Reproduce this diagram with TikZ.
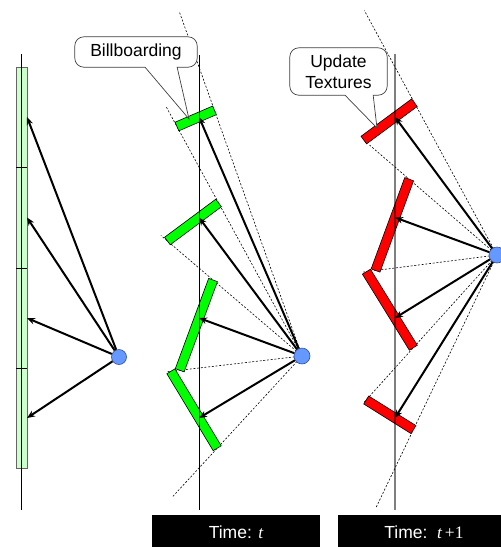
\documentclass[tikz,border=0pt]{standalone}
\usepackage{fontspec}
\setmainfont{Liberation Sans}
\newfontfamily\tnr{Liberation Serif}
\usetikzlibrary{calc,arrows.meta}
\definecolor{stripgreen}{HTML}{CCFFCC}
\definecolor{slabgreen}{HTML}{00FF00}
\definecolor{slabred}{HTML}{FF0000}
\definecolor{camblue}{HTML}{6699FF}
\definecolor{camedge}{HTML}{2F4F9F}
% #1 camera, #2 midpoint, #3 #4 boundary points, #5 fill, #6 name
\newcommand\mkslab[6]{%
  \coordinate (#6q) at ($(#2)!1!90:(#1)$);
  \coordinate (#6a) at (intersection of #2--#6q and #1--#3);
  \coordinate (#6b) at (intersection of #2--#6q and #1--#4);
  \draw[slabedge, fill=#5]
    ($(#6a)!4.7pt!90:(#6b)$) -- ($(#6b)!4.7pt!-90:(#6a)$) --
    ($(#6b)!4.7pt!90:(#6a)$) -- ($(#6a)!4.7pt!-90:(#6b)$) -- cycle;}
\begin{document}
\begin{tikzpicture}[x=1pt,y=-1pt,
  axisline/.style={line width=0.8pt},
  greyaxis/.style={line width=2pt, draw=black, draw opacity=0.5},
  rayline/.style={dash pattern=on 2pt off 1.7pt, line width=0.6pt},
  ptr/.style={line width=2pt, -{Stealth[length=8pt,width=6.5pt]}},
  cam/.style={circle, draw=camedge, fill=camblue, inner sep=0pt, line width=0.6pt},
  slabedge/.style={draw=black, line width=0.6pt},
  callout/.style={draw=black!75, fill=white, line width=0.7pt},
  txt/.style={font=\fontsize{17.5pt}{21pt}\selectfont},
  timebox/.style={fill=black, text=white, inner sep=0pt, font=\fontsize{17.5pt}{21pt}\selectfont}
]
\useasboundingbox (0,0) rectangle (501,547);

% ---------------- panel 1 ----------------
\draw[fill=stripgreen, draw=black!60, line width=0.6pt] (16,67) rectangle (27,468);
\foreach \yy in {167,268,368} \draw[line width=0.6pt] (16,\yy) -- (27,\yy);
\coordinate (L1top) at (21.5,54);
\coordinate (L1bot) at (21.5,510);
\draw[axisline] (L1top) -- (L1bot);
\node[cam, minimum size=15pt] (cam1) at (119,357) {};
\coordinate (A1) at (27,117);
\coordinate (A2) at (27,217.5);
\coordinate (A3) at (27,318);
\coordinate (A4) at (27,418);
\foreach \i in {1,...,4} \draw[ptr] (cam1) -- (A\i);

% ---------------- panel 2 ----------------
\coordinate (C2) at (302,356);
\foreach \i/\yy in {0/67,1/167,2/268,3/368,4/468} \coordinate (B\i) at (199,\yy);
\coordinate (N1) at (199,117);
\coordinate (N2) at (199,217.5);
\coordinate (N3) at (199,318);
\coordinate (N4) at (199,418);
\foreach \i/\f in {0/1.19,1/1.32,2/1.37,3/1.31,4/1.26}
  \draw[rayline] (C2) -- ($(C2)!\f!(B\i)$);
\mkslab{C2}{N1}{B0}{B1}{slabgreen}{g1}
\mkslab{C2}{N2}{B1}{B2}{slabgreen}{g2}
\mkslab{C2}{N3}{B2}{B3}{slabgreen}{g3}
\mkslab{C2}{N4}{B3}{B4}{slabgreen}{g4}
\coordinate (L2top) at (199,55);
\coordinate (L2bot) at (199,510);
\draw[axisline] (L2top) -- (L2bot);
\node[cam, minimum size=16pt] (cam2) at (C2) {};
\foreach \i in {1,...,4} \draw[ptr] (cam2) -- (N\i);

% ---------------- panel 3 ----------------
\coordinate (C3) at (497,255);
\foreach \i/\yy in {0/67,1/167,2/268,3/368,4/468} \coordinate (D\i) at (395,\yy);
\coordinate (K1) at (395,117);
\coordinate (K2) at (395,217.5);
\coordinate (K3) at (395,318);
\coordinate (K4) at (395,418);
\foreach \i/\f in {0/1.30,1/1.25,2/1.31,3/1.30,4/1.19}
  \draw[rayline] (C3) -- ($(C3)!\f!(D\i)$);
\mkslab{C3}{K1}{D0}{D1}{slabred}{r1}
\mkslab{C3}{K2}{D1}{D2}{slabred}{r2}
\mkslab{C3}{K3}{D2}{D3}{slabred}{r3}
\mkslab{C3}{K4}{D3}{D4}{slabred}{r4}
\coordinate (L3top) at (395,54);
\coordinate (L3bot) at (395,510);
\draw[greyaxis] (L3top) -- (L3bot);
\node[cam, minimum size=16pt] (cam3) at (C3) {};
\foreach \i in {1,...,4} \draw[ptr] (cam3) -- (K\i);

% ---------------- callouts ----------------
\node[txt, minimum width=122pt, minimum height=30pt, inner sep=0pt] (bb) at (136,52) {};
\coordinate (tipA) at (189,119);
\draw[callout] (tipA) -- ($(bb.south west)!0.574!(bb.south east)$) [rounded corners=9pt]
  -- (bb.south west) -- (bb.north west) -- (bb.north east) -- (bb.south east) [sharp corners]
  -- ($(bb.south west)!0.836!(bb.south east)$) -- cycle;
\node[txt, inner sep=0pt] (bbt) at (bb.center) {Billboarding};

\node[txt, minimum width=97pt, minimum height=47pt, inner sep=0pt] (ut) at (338.5,71.5) {};
\coordinate (tipB) at (377,128);
\draw[callout] (tipB) -- ($(ut.south west)!0.567!(ut.south east)$) [rounded corners=9pt]
  -- (ut.south west) -- (ut.north west) -- (ut.north east) -- (ut.south east) [sharp corners]
  -- ($(ut.south west)!0.856!(ut.south east)$) -- cycle;
\node[txt, inner sep=0pt, align=center] (utt) at (ut.center) {Update\\Textures};

% ---------------- time labels ----------------
\node[timebox, minimum width=168pt, minimum height=34pt] (tb1) at (236,532) {Time: {\tnr\itshape t}};
\node[timebox, minimum width=172pt, minimum height=34pt] (tb2) at (424,532) {Time:\ \ {\tnr\itshape t}\,{\tnr +1}};
\end{tikzpicture}
\end{document}
